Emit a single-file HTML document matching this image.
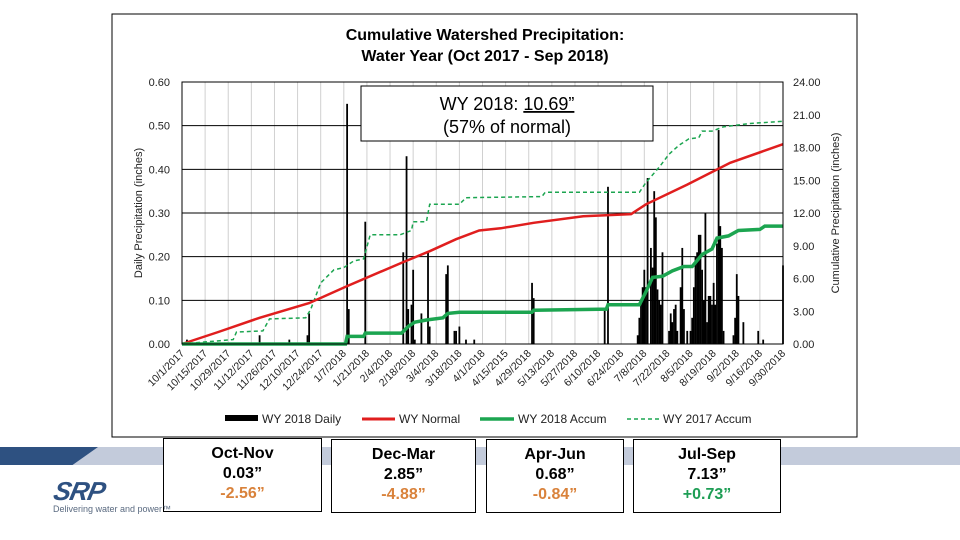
<!DOCTYPE html>
<html><head><meta charset="utf-8"><style>
body{margin:0;width:960px;height:540px;background:#fff;position:relative;overflow:hidden;font-family:"Liberation Sans",Arial,sans-serif}
.box{position:absolute;border:1.5px solid #000;background:#fff;text-align:center;font-weight:bold;font-size:16px;line-height:20px;box-sizing:border-box;padding-top:5px}
.neg{color:#d9823b}.pos{color:#1e9e55}
</style></head><body>
<div style="position:absolute;left:0;top:447px;width:960px;height:18px;background:#c3cbdb"></div>
<div style="position:absolute;left:0;top:447px;width:98px;height:18px;background:#2e5181;clip-path:polygon(0 0,100% 0,74% 100%,0 100%)"></div>
<svg width="960" height="540" style="position:absolute;left:0;top:0" font-family="Liberation Sans, Arial, sans-serif">
<rect x="112" y="14" width="745" height="423" fill="#fff" stroke="#000" stroke-width="1"/>
<text x="485" y="40" text-anchor="middle" font-weight="bold" font-size="16">Cumulative Watershed Precipitation:</text>
<text x="485" y="61" text-anchor="middle" font-weight="bold" font-size="16">Water Year (Oct 2017 - Sep 2018)</text>
<g id="grid"></g><g id="bars"></g><g id="lines"></g><g id="axes"></g>
<rect x="361" y="86" width="292" height="55" fill="#fff" stroke="#000"/>
<text x="507" y="110" text-anchor="middle" font-size="18">WY 2018: <tspan text-decoration="underline">10.69”</tspan></text>
<text x="507" y="133" text-anchor="middle" font-size="18">(57% of normal)</text>
<text transform="translate(142,213) rotate(-90)" text-anchor="middle" font-size="11" fill="#222">Daily Precipitation (inches)</text>
<text transform="translate(839,213) rotate(-90)" text-anchor="middle" font-size="11" fill="#222">Cumulative Precipitation (inches)</text>
<g font-size="12" fill="#222">
<rect x="225" y="415" width="33" height="6" fill="#000"/><text x="262" y="423">WY 2018 Daily</text>
<line x1="362" y1="419" x2="395" y2="419" stroke="#e01e1e" stroke-width="3"/><text x="399" y="423">WY Normal</text>
<line x1="480" y1="419" x2="514" y2="419" stroke="#1ca550" stroke-width="3.5"/><text x="518" y="423">WY 2018 Accum</text>
<line x1="627" y1="419" x2="660" y2="419" stroke="#1ca550" stroke-width="1.5" stroke-dasharray="4,3"/><text x="663" y="423">WY 2017 Accum</text>
</g>
</svg>
<div class="box" style="left:163px;top:438px;width:159px;height:74px">Oct-Nov<br>0.03”<br><span class="neg">-2.56”</span></div>
<div class="box" style="left:331px;top:439px;width:145px;height:74px">Dec-Mar<br>2.85”<br><span class="neg">-4.88”</span></div>
<div class="box" style="left:486px;top:439px;width:138px;height:74px">Apr-Jun<br>0.68”<br><span class="neg">-0.84”</span></div>
<div class="box" style="left:633px;top:439px;width:148px;height:74px">Jul-Sep<br>7.13”<br><span class="pos">+0.73”</span></div>
<div style="position:absolute;left:54px;top:476px;font-size:26px;font-weight:bold;font-style:italic;color:#2e5181;letter-spacing:-1px;transform:skewX(-12deg)">SRP</div>
<div style="position:absolute;left:53px;top:504px;font-size:9px;color:#5a6a80">Delivering water and power™</div>
<script>
const xLabels=["10/1/2017","10/15/2017","10/29/2017","11/12/2017","11/26/2017","12/10/2017","12/24/2017","1/7/2018","1/21/2018","2/4/2018","2/18/2018","3/4/2018","3/18/2018","4/1/2018","4/15/2015","4/29/2018","5/13/2018","5/27/2018","6/10/2018","6/24/2018","7/8/2018","7/22/2018","8/5/2018","8/19/2018","9/2/2018","9/16/2018","9/30/2018"];
const leftTicks=["0.00","0.10","0.20","0.30","0.40","0.50","0.60"];
const rightTicks=["0.00","3.00","6.00","9.00","12.00","15.00","18.00","21.00","24.00"];
const dailyDays=[3,47,65,76,77,100,101,111,134,136,137,139,140,141,145,149,150,160,161,165,166,168,172,177,212,213,256,258,276,277,278,279,280,281,282,284,285,286,287,288,289,290,291,295,296,297,298,299,300,302,303,304,306,308,309,310,311,312,313,314,315,316,317,318,319,320,321,322,323,324,325,326,327,328,334,335,336,337,340,349,352,364];
const dailyVals=[0.01,0.02,0.01,0.02,0.07,0.55,0.08,0.28,0.21,0.43,0.08,0.09,0.17,0.01,0.07,0.21,0.04,0.16,0.18,0.03,0.03,0.04,0.01,0.01,0.14,0.105,0.08,0.36,0.02,0.06,0.094,0.13,0.17,0.13,0.38,0.22,0.175,0.35,0.29,0.125,0.10,0.09,0.21,0.03,0.07,0.05,0.08,0.09,0.03,0.13,0.22,0.08,0.03,0.03,0.06,0.13,0.20,0.21,0.25,0.25,0.17,0.10,0.30,0.05,0.11,0.11,0.09,0.14,0.09,0.23,0.49,0.27,0.22,0.03,0.02,0.06,0.16,0.11,0.05,0.03,0.01,0.18,0.06];
const normalDays=[0,22,47,77,100,134,150,166,180,193,213,243,272,281,306,332,364];
const normalVals=[0,1.1,2.4,3.75,5.3,7.5,8.5,9.6,10.4,10.6,11.1,11.7,11.9,12.8,14.6,16.6,18.3];
const acc18Days=[0,99,100,110,111,133,137,141,148,158,161,168,212,213,257,258,277,281,285,291,297,304,309,315,321,324,331,337,350,353,364];
const acc18Vals=[0,0,0.7,0.7,1.0,1.0,1.6,2.0,2.2,2.4,2.8,2.9,2.9,3.1,3.2,3.6,3.6,4.8,6.1,6.2,6.7,7.1,7.1,8.2,8.7,9.7,9.9,10.4,10.5,10.8,10.8];
const acc17Days=[0,15,31,33,49,53,75,78,84,92,98,104,110,114,132,139,140,148,150,168,172,218,220,277,281,289,295,301,307,313,315,321,328,344,364];
const acc17Vals=[0,0.2,0.4,1.1,1.2,2.3,2.4,3.2,5.6,6.8,7.0,7.6,7.8,10.0,10.0,10.4,11.2,11.2,12.8,12.8,13.4,13.5,13.9,13.9,14.8,16.2,17.4,18.2,18.8,18.9,19.5,19.5,19.9,20.2,20.4];

const NS="http://www.w3.org/2000/svg";
const X0=182,X1=783,Y0=344,Y1=82,DMAX=364;
const xS=d=>X0+d/DMAX*(X1-X0);
const yL=v=>Y0-v/0.6*(Y0-Y1);
const yR=v=>Y0-v/24*(Y0-Y1);
function mk(tag,attrs,parent){const e=document.createElementNS(NS,tag);for(const k in attrs)e.setAttribute(k,attrs[k]);parent.appendChild(e);return e;}
const grid=document.getElementById('grid'),bars=document.getElementById('bars'),lines=document.getElementById('lines'),axes=document.getElementById('axes');
xLabels.forEach((lab,i)=>{
  const x=xS(i*14);
  const g=mk('line',{x1:x,x2:x,y1:Y1,y2:Y0,stroke:'#d0d0d0','stroke-width':1},grid);
  
  
  const t=mk('text',{transform:`translate(${x+3},${Y0+10}) rotate(-45)`,'text-anchor':'end','font-size':10.5,fill:'#222'},axes);
  t.textContent=lab;
  
  
});
leftTicks.forEach((lab,i)=>{
  const y=yL(i*0.1);
  const g=mk('line',{x1:X0,x2:X1,y1:y,y2:y,stroke:'#000','stroke-width':1},grid);
  
  
  const t=mk('text',{x:170,y:y+4,'text-anchor':'end','font-size':11,fill:'#222'},axes);
  t.textContent=lab;
  
  
});
rightTicks.forEach((lab,i)=>{
  const t=mk('text',{x:793,y:yR(i*3)+4,'font-size':11,fill:'#222'},axes);
  t.textContent=lab;
  
  
});
mk('rect',{x:X0,y:Y1,width:X1-X0,height:Y0-Y1,fill:'none',stroke:'#000'},axes);
dailyDays.forEach((d,i)=>{
  const v=dailyVals[i];
  const b=mk('rect',{x:xS(d)-0.9,y:yL(v),width:1.8,height:Y0-yL(v),fill:'#000'},bars);
  
  
});
function path(days,vals){return days.map((d,i)=>(i?'L':'M')+xS(d).toFixed(1)+','+yR(vals[i]).toFixed(1)).join(' ');}
const p1=mk('path',{d:path(acc17Days,acc17Vals),fill:'none',stroke:'#1ca550','stroke-width':1.5,'stroke-dasharray':'4,3'},lines);


const p2=mk('path',{d:path(normalDays,normalVals),fill:'none',stroke:'#e01e1e','stroke-width':2.5},lines);


const p3=mk('path',{d:path(acc18Days,acc18Vals),fill:'none',stroke:'#1ca550','stroke-width':3.5},lines);


</script>
</body></html>
